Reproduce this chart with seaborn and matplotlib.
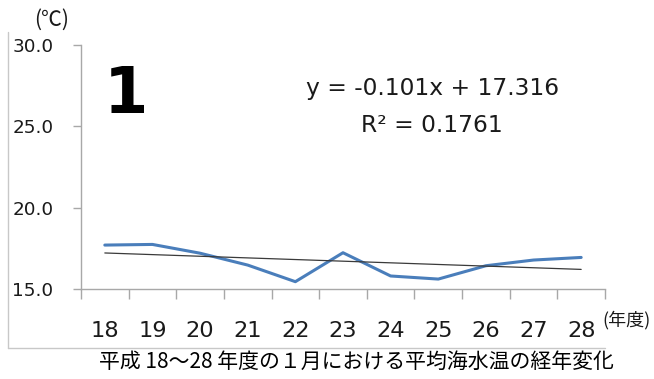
import matplotlib
matplotlib.use("Agg")
import matplotlib.pyplot as plt
from matplotlib.lines import Line2D
from matplotlib.ticker import FixedLocator, NullFormatter
import seaborn as sns
import pandas as pd
import numpy as np

# Fiscal years (Heisei 18-28) and mean January sea temperature (°C)
years = ["18", "19", "20", "21", "22", "23", "24", "25", "26", "27", "28"]
temps = [17.70, 17.74, 17.20, 16.47, 15.45, 17.23, 15.80, 15.61, 16.43, 16.78, 16.94]

# Linear trend shown on the chart: y = slope * x + intercept, x = 1..11
slope = -0.101
intercept = 17.316
r_squared = 0.1761

y_ticks = [15.0, 20.0, 25.0, 30.0]
panel_label = "1"
unit_label = "(℃)"
x_unit_label = "(年度)"
caption = "平成 18〜28 年度の１月における平均海水温の経年変化"

sns.set_theme(style="white")
plt.rcParams["font.family"] = ["DejaVu Sans"]
cjk = ["Noto Sans CJK JP", "DejaVu Sans"]

df = pd.DataFrame({"pos": np.arange(len(years)), "temp": temps})
trend = pd.DataFrame({
    "pos": np.arange(len(years)),
    "fit": [slope * (i + 1) + intercept for i in range(len(years))],
})

fig = plt.figure(figsize=(6.54, 3.79), dpi=100)
ax = fig.add_axes([0.12385, 0.23747, 0.80122, 0.64380])

sns.lineplot(data=df, x="pos", y="temp", ax=ax, color="#4A7EBB", linewidth=2.2)
sns.lineplot(data=trend, x="pos", y="fit", ax=ax, color="#3a3a3a", linewidth=0.9)

ax.set_xlim(-0.5, len(years) - 0.5)
ax.set_ylim(15, 30)
ax.set_xlabel("")
ax.set_ylabel("")

axis_color = "#a8a8a8"
for side in ["top", "right"]:
    ax.spines[side].set_visible(False)
for side in ["left", "bottom"]:
    ax.spines[side].set_color(axis_color)
    ax.spines[side].set_linewidth(1.0)

ax.set_yticks(y_ticks)
ax.set_yticklabels([f"{v:.1f}" for v in y_ticks])
ax.tick_params(axis="y", which="major", direction="out", length=5.8, width=1.0,
               color=axis_color, pad=14, labelsize=13.2, labelcolor="#1a1a1a", left=True)

ax.set_xticks(np.arange(len(years)))
ax.set_xticklabels(years)
ax.xaxis.set_minor_locator(FixedLocator(np.arange(len(years) + 1) - 0.5))
ax.xaxis.set_minor_formatter(NullFormatter())
ax.tick_params(axis="x", which="major", length=0, pad=23, labelsize=16.2, labelcolor="#1a1a1a")
ax.tick_params(axis="x", which="minor", direction="out", length=7.2, width=1.0,
               color=axis_color, bottom=True)

# Regression annotation and panel number
ax.text(0.67, 0.822, f"y = {slope}x + {intercept}", transform=ax.transAxes,
        ha="center", va="center", fontsize=16.8, color="#1a1a1a")
ax.text(0.67, 0.670, f"R² = {r_squared}", transform=ax.transAxes,
        ha="center", va="center", fontsize=16.8, color="#1a1a1a")
ax.text(0.086, 0.795, panel_label, transform=ax.transAxes, ha="center", va="center",
        fontsize=46, fontweight="bold", color="black")

# Unit labels and caption
fig.text(52 / 654, 1 - 20 / 379, unit_label, ha="center", va="center",
         fontsize=15, family=cjk, color="#1a1a1a")
fig.text(626 / 654, 1 - 320 / 379, x_unit_label, ha="center", va="center",
         fontsize=13, family=cjk, color="#1a1a1a")
fig.text(356 / 654, 1 - 362 / 379, caption, ha="center", va="center",
         fontsize=15, family=cjk, color="black")

# Light frame along the left and bottom of the chart area
frame_color = "#c8c8c8"
fig.add_artist(Line2D([8 / 654, 8 / 654], [1 - 32 / 379, 1 - 348 / 379],
                      transform=fig.transFigure, color=frame_color, linewidth=1.0))
fig.add_artist(Line2D([8 / 654, 605 / 654], [1 - 348 / 379, 1 - 348 / 379],
                      transform=fig.transFigure, color=frame_color, linewidth=1.0))

fig.savefig("out.png", dpi=100, facecolor="white")
